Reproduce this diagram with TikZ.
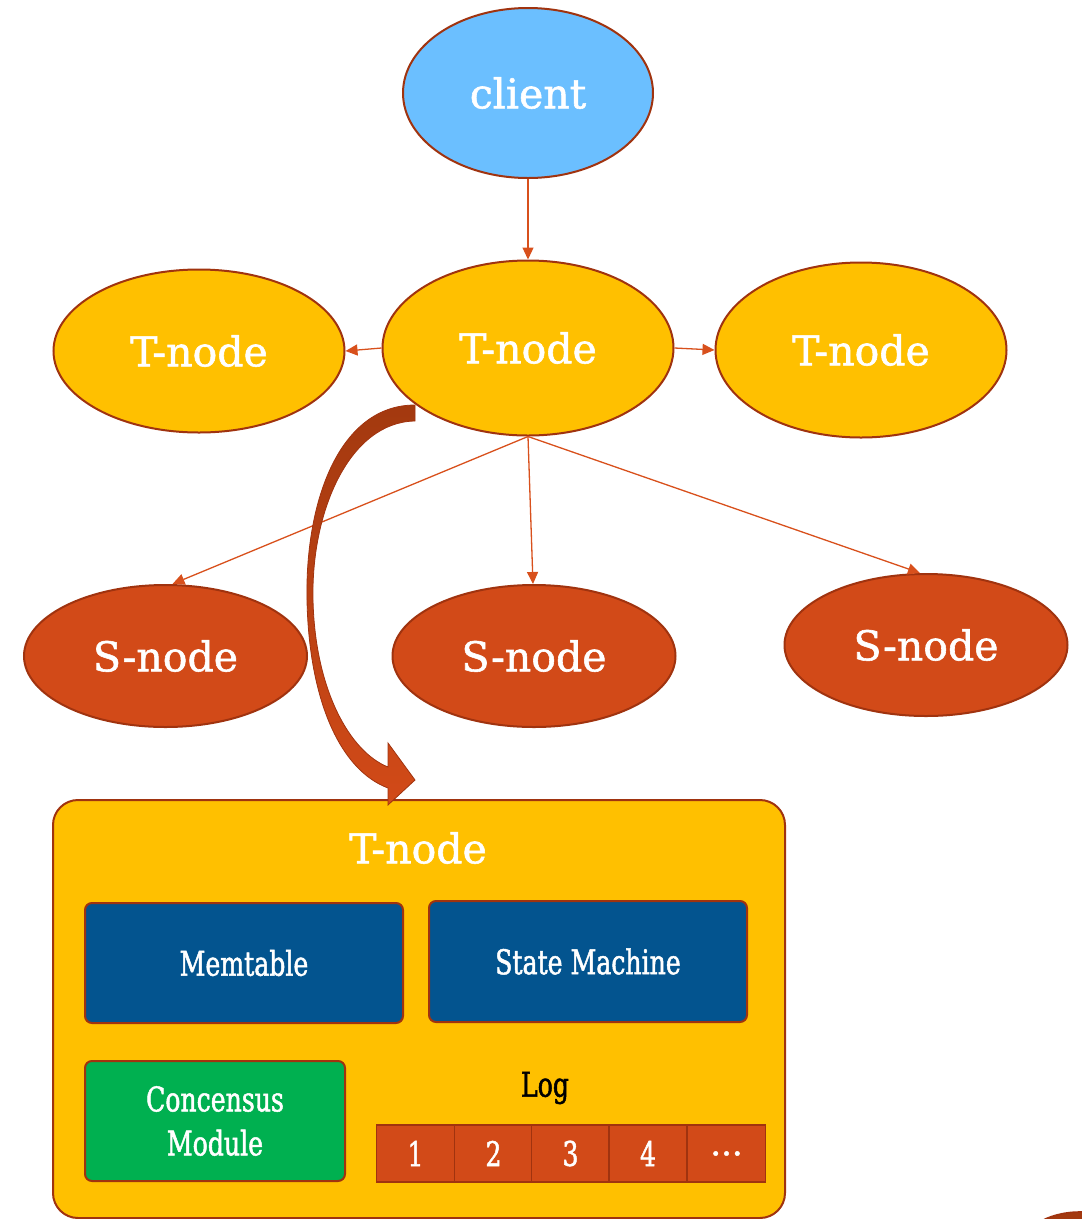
\documentclass[tikz,border=0pt]{standalone}
\usepackage{fontspec}
\setmainfont[FakeBold=1.4]{DejaVu Serif}
\newfontfamily\narrowfont[FakeStretch=0.74,FakeBold=1.4]{DejaVu Serif}
\usetikzlibrary{shapes.geometric,arrows.meta}
\definecolor{rim}{HTML}{A0330F}
\definecolor{linkred}{HTML}{D8501C}
\definecolor{skyfill}{HTML}{6BBFFF}
\definecolor{goldfill}{HTML}{FFC000}
\definecolor{rustfill}{HTML}{D24A18}
\definecolor{navyfill}{HTML}{03548F}
\definecolor{greenfill}{HTML}{00B050}
\definecolor{darkrust}{HTML}{A3390F}
\tikzset{
  oval/.style={ellipse, draw=rim, line width=2pt, inner sep=0pt,
    text=white, font=\fontsize{41}{44}\selectfont},
  tnode/.style={oval, fill=goldfill, minimum width=291pt, minimum height=175pt},
  snode/.style={oval, fill=rustfill, minimum width=283pt, minimum height=142pt},
  link/.style={draw=linkred, line width=1.3pt, -{Triangle[length=12pt,width=11pt]}},
  module/.style={draw=rim, line width=2pt, rounded corners=7pt, text=white,
    align=center, font=\narrowfont\fontsize{34}{44}\selectfont},
  cell/.style={draw=rim, line width=1.6pt, fill=rustfill, minimum width=78pt,
    minimum height=57pt, inner sep=0pt, text=white,
    font=\narrowfont\fontsize{34}{36}\selectfont}
}
\begin{document}
\begin{tikzpicture}[x=1pt,y=-1pt]
\useasboundingbox (0,0) rectangle (1082,1219);
\clip (0,0) rectangle (1082,1219);

% top layer
\node[oval, fill=skyfill, minimum width=250pt, minimum height=170pt] (client) at (528,93) {client};
\node[tnode] (tc) at (528,348) {T-node};
\node[tnode, minimum height=163pt] (tl) at (199,351) {T-node};
\node[tnode] (tr) at (861,350) {T-node};

% storage layer
\node[snode] (s1) at (165.5,656) {S-node};
\node[snode] (s2) at (534,656) {S-node};
\node[snode] (s3) at (926,645) {S-node};

% links
\draw[link] (client.south) -- (tc.north);
\draw[link] (tc.west) -- (tl.east);
\draw[link] (tc.east) -- (tr.west);
\draw[link] (tc.south) -- ([xshift=7pt]s1.north);
\draw[link] (tc.south) -- ([xshift=-1pt]s2.north);
\draw[link] (tc.south) -- ([xshift=-6pt]s3.north);

% expanded T-node
\node[draw=rim, line width=2pt, fill=goldfill, rounded corners=25pt,
  minimum width=732pt, minimum height=418pt] (box) at (419,1009) {};
\node[text=white, font=\fontsize{41}{44}\selectfont] (boxtitle) at (418,848) {T-node};

\node[module, fill=navyfill, minimum width=318pt, minimum height=120pt] (mem) at (244,963) {Memtable};
\node[module, fill=navyfill, minimum width=318pt, minimum height=121pt] (sm) at (588,961.5) {State Machine};
\node[module, fill=greenfill, minimum width=260pt, minimum height=120pt] (cm) at (215,1121) {Concensus\\Module};

\node[font=\narrowfont\fontsize{34}{36}\selectfont] (loglabel) at (545,1088) {Log};
\node[cell] (c1) at (415.5,1153.5) {1};
\node[cell] (c2) at (493.5,1153.5) {2};
\node[cell] (c3) at (570.5,1153.5) {3};
\node[cell] (c4) at (648,1153.5) {4};
\node[cell, font=\fontsize{34}{36}\selectfont] (c5) at (726.5,1153.5) {...};

% curved block arrow from the T-node to its expanded view
\path[draw=rim, line width=0.8pt, top color=darkrust, bottom color=rustfill]
  (415,405) .. controls (340,405) and (305,500) .. (307,600)
  .. controls (309,700) and (340,770) .. (388,788)
  -- (388,805) -- (415,780) -- (388,743) -- (388,767)
  .. controls (350,752) and (315,690) .. (313,600)
  .. controls (311,510) and (350,422) .. (415,421) -- cycle;

% partly visible shape at the lower right
\node[ellipse, draw=rim, line width=1.6pt, fill=darkrust, minimum width=120pt,
  minimum height=76pt] (corner) at (1080,1250) {};
\end{tikzpicture}
\end{document}
